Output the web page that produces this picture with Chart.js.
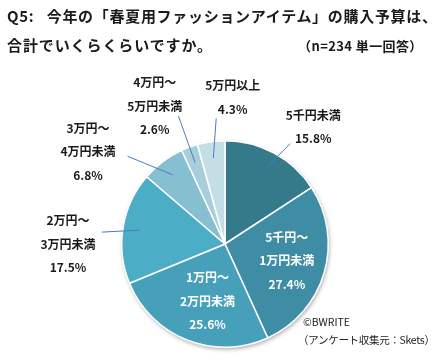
<!DOCTYPE html>
<html lang="ja">
<head>
<meta charset="utf-8">
<script src="https://cdn.jsdelivr.net/npm/chart.js@4/dist/chart.umd.min.js"></script>
<style>
  html, body { margin: 0; padding: 0; background: #fff; }
  #wrap { position: relative; width: 436px; height: 361px; overflow: hidden;
    font-family: "Noto Sans CJK JP", "Noto Sans", sans-serif; color: #1a1a1a; }
  #chart { position: absolute; left: 0; top: 0; }
  .t { position: absolute; font-weight: bold; white-space: nowrap; }
  #q1 { left: 7px; top: 5px; font-size: 15px; letter-spacing: 0.7px; }
  #q2 { left: 7px; top: 34px; font-size: 15px; letter-spacing: 0.9px; }
  #n { left: 298px; top: 36px; font-size: 13px; letter-spacing: 0.4px; }
  .src { position: absolute; font-size: 10.5px; white-space: nowrap; color: #222; }
  #c1 { left: 303px; top: 314px; }
  #c2 { left: 298px; top: 332px; letter-spacing: -0.3px; }
</style>
</head>
<body>
<div id="wrap">
  <canvas id="chart" width="436" height="361"></canvas>
  <div class="t" id="q1">Q5:&nbsp;&nbsp; 今年の「春夏用ファッションアイテム」の購入予算は、</div>
  <div class="t" id="q2">合計でいくらくらいですか。</div>
  <div class="t" id="n">（n=234 単一回答）</div>
  <div class="src" id="c1">©BWRITE</div>
  <div class="src" id="c2">（アンケート収集元：Skets）</div>
</div>
<script>
// answer categories, clockwise from 12 o'clock
const labels = [
  ["5千円未満"],
  ["5千円～", "1万円未満"],
  ["1万円～", "2万円未満"],
  ["2万円～", "3万円未満"],
  ["3万円～", "4万円未満"],
  ["4万円～", "5万円未満"],
  ["5万円以上"]
];
const shares = [15.8, 27.4, 25.6, 17.5, 6.8, 2.6, 4.3];
const colors = ["#357a8b", "#3e8da4", "#46a0b9", "#4badc6", "#86bfd0", "#a6cedb", "#c4dee6"];

// where each label sits: angle in degrees clockwise from top, distance in radii
// inside = drawn on the slice in white, otherwise outside with a leader line
const placement = [
  { a: 37, r: 1.42, la: 33, lr: 1.16 },
  { inside: true, a: 105, r: 0.62 },
  { inside: true, a: 197, r: 0.58 },
  { a: 270, r: 1.52, la: 275.5, lr: 1.2 },
  { a: 304, r: 1.6, la: 312, lr: 1.27 },
  { a: 333, r: 1.5, la: 340, lr: 1.32 },
  { a: 3, r: 1.42, la: 356, lr: 1.22 }
];

const pieShadow = {
  id: "pieShadow",
  beforeDatasetsDraw(chart) {
    const arc = chart.getDatasetMeta(0).data[0];
    if (!arc) return;
    const ctx = chart.ctx;
    ctx.save();
    ctx.shadowColor = "rgba(0,0,0,0.35)";
    ctx.shadowBlur = 4;
    ctx.shadowOffsetX = 1;
    ctx.shadowOffsetY = 2;
    ctx.fillStyle = "#fff";
    ctx.beginPath();
    ctx.arc(arc.x, arc.y, arc.outerRadius, 0, Math.PI * 2);
    ctx.fill();
    ctx.restore();
  }
};

const pieLabels = {
  id: "pieLabels",
  afterDatasetsDraw(chart) {
    const ctx = chart.ctx;
    const arcs = chart.getDatasetMeta(0).data;
    const pt = (arc, deg, f) => {
      const t = (deg - 90) * Math.PI / 180;
      return [arc.x + Math.cos(t) * arc.outerRadius * f, arc.y + Math.sin(t) * arc.outerRadius * f];
    };
    ctx.save();
    ctx.font = "bold 12px 'Noto Sans CJK JP', sans-serif";
    ctx.textAlign = "center";
    ctx.textBaseline = "middle";
    arcs.forEach((arc, i) => {
      const p = placement[i];
      const mid = ((arc.startAngle + arc.endAngle) / 2) * 180 / Math.PI + 90;
      if (!p.inside) {
        const a = pt(arc, mid, 0.84);
        const b = pt(arc, p.la, p.lr);
        ctx.strokeStyle = "#4a7cc0";
        ctx.lineWidth = 1;
        ctx.beginPath();
        ctx.moveTo(a[0], a[1]);
        ctx.lineTo(b[0], b[1]);
        ctx.stroke();
      }
      const lines = labels[i].concat([shares[i].toFixed(1) + "%"]);
      const c = pt(arc, p.a, p.r);
      const lh = 23.5;
      ctx.fillStyle = p.inside ? "#ffffff" : "#1a1a1a";
      lines.forEach((s, k) => {
        ctx.fillText(s, c[0], c[1] + (k - (lines.length - 1) / 2) * lh);
      });
    });
    ctx.restore();
  }
};

new Chart(document.getElementById("chart"), {
  type: "pie",
  data: {
    labels: labels.map(l => l.join("")),
    datasets: [{
      data: shares,
      backgroundColor: colors,
      borderColor: "#ffffff",
      borderWidth: 1.5
    }]
  },
  options: {
    responsive: false,
    animation: false,
    layout: { padding: { top: 140, bottom: 13, left: 121, right: 107 } },
    plugins: {
      legend: { display: false },
      tooltip: { enabled: false }
    }
  },
  plugins: [pieShadow, pieLabels]
});
</script>
</body>
</html>
